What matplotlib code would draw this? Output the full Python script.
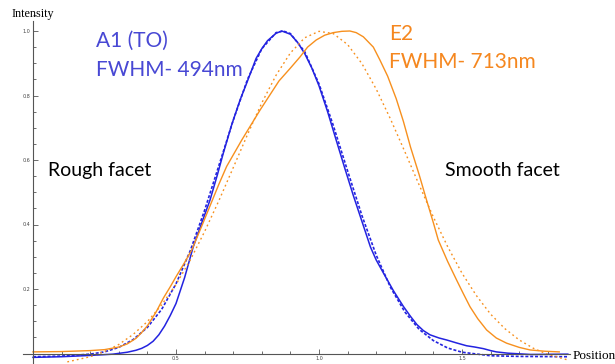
import matplotlib
matplotlib.use("Agg")
import matplotlib.pyplot as plt
from matplotlib.ticker import MultipleLocator, FixedLocator

# measured profile A1 (TO), rough facet side
blue_x = [0.0, 0.1, 0.2, 0.28, 0.33, 0.36, 0.38, 0.4, 0.42, 0.44, 0.46, 0.48,
          0.5, 0.53, 0.56, 0.59, 0.619, 0.645, 0.665, 0.695, 0.724, 0.75, 0.78,
          0.8, 0.82, 0.85, 0.87, 0.9, 0.925, 0.95, 0.975, 1.0, 1.03, 1.06, 1.09,
          1.12, 1.15, 1.18, 1.2, 1.225, 1.26, 1.295, 1.32, 1.342, 1.365, 1.388,
          1.42, 1.446, 1.48, 1.516, 1.545, 1.575, 1.6, 1.62, 1.66, 1.74, 1.87]
blue_y = [-0.012, -0.01, -0.006, -0.002, 0.004, 0.01, 0.016, 0.025, 0.038, 0.058,
          0.085, 0.118, 0.155, 0.235, 0.33, 0.405, 0.476, 0.555, 0.62, 0.71,
          0.786, 0.845, 0.915, 0.945, 0.97, 0.993, 1.0, 0.99, 0.965, 0.93, 0.885,
          0.83, 0.75, 0.662, 0.575, 0.49, 0.41, 0.33, 0.29, 0.25, 0.195, 0.146,
          0.115, 0.09, 0.071, 0.058, 0.048, 0.042, 0.033, 0.024, 0.02, 0.015,
          0.009, 0.005, 0.001, -0.003, -0.002]

# gaussian fit of A1 (dashed)
bfit_x = [0.0, 0.1, 0.2, 0.25, 0.3, 0.35, 0.4, 0.45, 0.5, 0.55, 0.6, 0.65, 0.7,
          0.75, 0.8, 0.85, 0.875, 0.9, 0.95, 1.0, 1.05, 1.1, 1.15, 1.2, 1.25, 1.3,
          1.35, 1.4, 1.45, 1.5, 1.6, 1.7, 1.87]
bfit_y = [-0.01, -0.008, -0.002, 0.005, 0.019, 0.043, 0.081, 0.137, 0.216, 0.319,
          0.444, 0.583, 0.723, 0.85, 0.945, 0.995, 1.0, 0.992, 0.936, 0.836, 0.707,
          0.566, 0.428, 0.305, 0.205, 0.129, 0.075, 0.04, 0.017, 0.004, -0.007,
          -0.009, -0.01]

# measured profile E2
orng_x = [0.0, 0.1, 0.2, 0.25, 0.3, 0.33, 0.36, 0.38, 0.4, 0.43, 0.456, 0.48,
          0.5, 0.53, 0.555, 0.59, 0.62, 0.65, 0.677, 0.73, 0.794, 0.86, 0.9,
          0.934, 0.96, 0.99, 1.02, 1.05, 1.08, 1.108, 1.13, 1.155, 1.19, 1.213,
          1.24, 1.27, 1.295, 1.32, 1.35, 1.376, 1.4, 1.417, 1.45, 1.481, 1.505,
          1.528, 1.555, 1.586, 1.62, 1.656, 1.7, 1.738, 1.79, 1.84]
orng_y = [0.005, 0.006, 0.009, 0.012, 0.02, 0.03, 0.047, 0.065, 0.086, 0.128,
          0.172, 0.207, 0.238, 0.282, 0.321, 0.395, 0.46, 0.525, 0.58, 0.662,
          0.755, 0.845, 0.885, 0.92, 0.95, 0.972, 0.987, 0.995, 0.999, 1.0, 0.995,
          0.982, 0.95, 0.91, 0.86, 0.79, 0.72, 0.64, 0.555, 0.476, 0.405, 0.352,
          0.285, 0.228, 0.185, 0.145, 0.108, 0.073, 0.048, 0.032, 0.019, 0.011,
          0.007, 0.005]

# gaussian fit of E2 (dotted)
ofit_x = [0.12, 0.2, 0.25, 0.3, 0.35, 0.4, 0.45, 0.5, 0.55, 0.6, 0.65, 0.7, 0.75,
          0.8, 0.85, 0.9, 0.95, 1.0, 1.05, 1.1, 1.15, 1.2, 1.25, 1.3, 1.35, 1.4,
          1.45, 1.5, 1.55, 1.6, 1.65, 1.7, 1.75, 1.8, 1.87]
ofit_y = [-0.026, -0.01, 0.006, 0.028, 0.059, 0.099, 0.151, 0.214, 0.29, 0.378,
          0.474, 0.576, 0.679, 0.777, 0.863, 0.932, 0.979, 0.999, 0.992, 0.958,
          0.899, 0.82, 0.727, 0.626, 0.523, 0.423, 0.331, 0.249, 0.18, 0.122,
          0.077, 0.042, 0.016, -0.003, -0.02]

blue = "#2323e0"
orange = "#f7901e"

W, H = 615, 364
fig = plt.figure(figsize=(W / 100, H / 100), dpi=100)
ax = fig.add_axes([0, 0, 1, 1])

ax.plot(blue_x, blue_y, color=blue, lw=1.1)
ax.plot(bfit_x, bfit_y, color=blue, lw=1.2, ls=(0, (1.8, 1.1)))
ax.plot(orng_x, orng_y, color=orange, lw=1.0)
ax.plot(ofit_x, ofit_y, color=orange, lw=1.0, ls=(0, (1.3, 2.2)))

# pixel-matched ranges: x=0 at px 33, 286 px/unit; y=0 at px 353.5, 322.5 px/unit
ax.set_xlim(-33 / 286, (W - 33) / 286)
ax.set_ylim(-(H - 353.5) / 322.5, 353.5 / 322.5)

for s in ["top", "right"]:
    ax.spines[s].set_visible(False)
ax.spines["left"].set_position(("data", 0))
ax.spines["bottom"].set_position(("data", 0))
ax.spines["left"].set_bounds(-0.033, 1.03)
ax.spines["bottom"].set_bounds(-0.035, 1.877)
for s in ["left", "bottom"]:
    ax.spines[s].set_color("#555555")
    ax.spines[s].set_linewidth(0.8)

ax.xaxis.set_major_locator(FixedLocator([0.5, 1.0, 1.5]))
ax.xaxis.set_minor_locator(FixedLocator([0.1, 0.2, 0.3, 0.4, 0.6, 0.7, 0.8, 0.9,
                                         1.1, 1.2, 1.3, 1.4, 1.6, 1.7, 1.8]))
ax.yaxis.set_major_locator(FixedLocator([0.2, 0.4, 0.6, 0.8, 1.0]))
ax.yaxis.set_minor_locator(MultipleLocator(0.05))
ax.set_xticklabels(["0.5", "1.0", "1.5"])
ax.set_yticklabels(["0.2", "0.4", "0.6", "0.8", "1.0"])
ax.tick_params(which="both", direction="in", color="#555555", width=0.6,
               labelsize=3.5, labelcolor="#444444", pad=2)
ax.tick_params(which="major", length=3.5)
ax.tick_params(which="minor", length=2)


def px(x, y):
    return x / W, 1 - y / H


fig.text(*px(12, 17), "Intensity", family="Liberation Serif", fontsize=8.7,
         va="baseline")
fig.text(*px(573, 359), "Position", family="Liberation Serif", fontsize=9.5,
         va="baseline")

tblue = "#4848d4"
torng = "#f5871f"
fig.text(*px(96, 47), "A1 (TO)", family="Lato", fontsize=15, color=tblue,
         va="baseline")
fig.text(*px(96, 76), "FWHM- 494nm", family="Lato", fontsize=15, color=tblue,
         va="baseline")
fig.text(*px(389, 40), "E2", family="Lato", fontsize=15, color=torng,
         va="baseline")
fig.text(*px(389, 68), "FWHM- 713nm", family="Lato", fontsize=15, color=torng,
         va="baseline")
fig.text(*px(48, 176), "Rough facet", family="Lato", fontsize=14,
         va="baseline")
fig.text(*px(445, 176), "Smooth facet", family="Lato", fontsize=14,
         va="baseline")

fig.savefig("out.png", dpi=100)
